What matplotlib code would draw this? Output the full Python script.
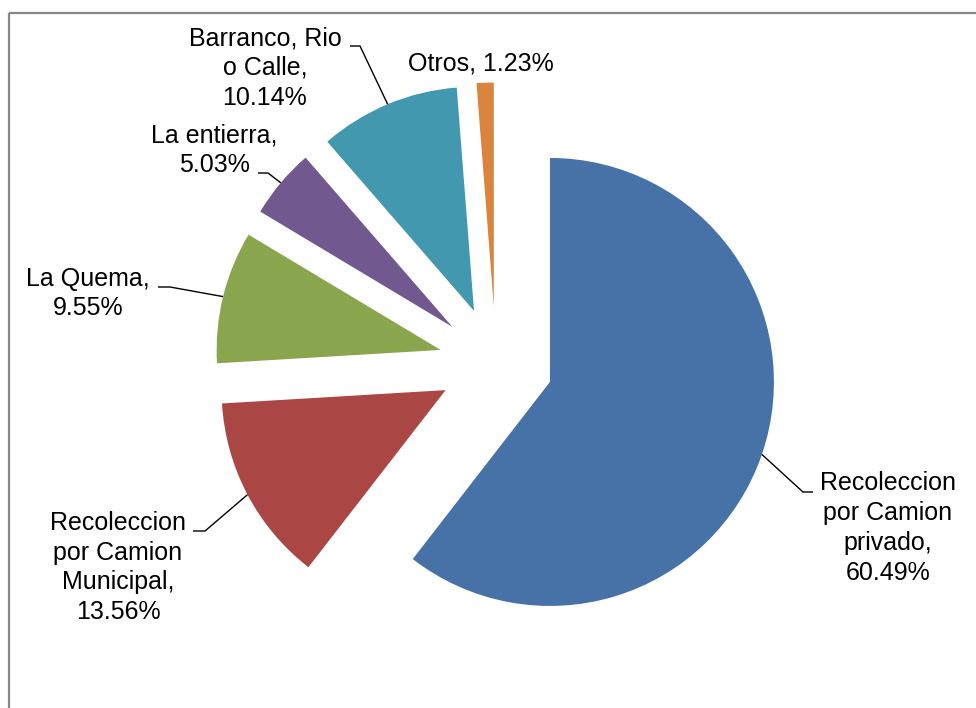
import matplotlib
matplotlib.use('Agg')
import matplotlib.pyplot as plt
from matplotlib.patches import Rectangle
import numpy as np

# ---- data ----
categories = ["Recoleccion\npor Camion\nprivado",
              "Recoleccion\npor Camion\nMunicipal",
              "La Quema",
              "La entierra",
              "Barranco, Rio\no Calle",
              "Otros"]
values = [60.49, 13.56, 9.55, 5.03, 10.14, 1.23]
separators = [",\n", ",\n", ",\n", ",\n", ",\n", ", "]
colors = ["#4672A7", "#AA4744", "#89A54E", "#71588F", "#4298AF", "#DB843D"]

# ---- layout (pixel units, y up) ----
W, H = 976, 708
pie_center = (496, 344.5)
pie_radius = 224
explode_dist = 57
label_pos = [(888, 180), (118, 140.5), (88, 414.5), (214, 558), (265, 640), (481, 645)]
# leader lines: (label side x, knee x, y) ; None for no leader
leaders = [(813, 803, 216), (193, 205, 177), (158, 170, 421), (258, 268, 535), (350, 360, 662), None]

plt.rcParams['font.family'] = ['Liberation Sans', 'DejaVu Sans']

fig = plt.figure(figsize=(W / 100, H / 100), dpi=100)
ax = fig.add_axes([0, 0, 1, 1])

wedges, _ = ax.pie(values, colors=colors, startangle=90, counterclock=False,
                   radius=pie_radius, center=pie_center,
                   explode=[explode_dist] * len(values),
                   wedgeprops=dict(linewidth=0))

ax.set_xlim(0, W)
ax.set_ylim(0, H)
ax.set_aspect('equal')
ax.axis('off')

for i, w in enumerate(wedges):
    txt = f"{categories[i]}{separators[i]}{values[i]:.2f}%"
    ax.text(label_pos[i][0], label_pos[i][1], txt, ha='center', va='center',
            multialignment='center', fontsize=18, color='black', linespacing=1.31)
    if leaders[i] is not None:
        tm = np.deg2rad((w.theta1 + w.theta2) / 2)
        cx, cy = w.center
        px = cx + w.r * np.cos(tm)
        py = cy + w.r * np.sin(tm)
        lx, kx, ly = leaders[i]
        ax.plot([lx, kx, px], [ly, ly, py], color='black', lw=1.0,
                solid_capstyle='butt')

# chart frame (cut by the image edge at right and bottom)
ax.add_patch(Rectangle((9, H - 13), 3000, -3000, facecolor='none',
                       edgecolor='#878787', lw=1.6))

fig.savefig('out.png', dpi=100)
